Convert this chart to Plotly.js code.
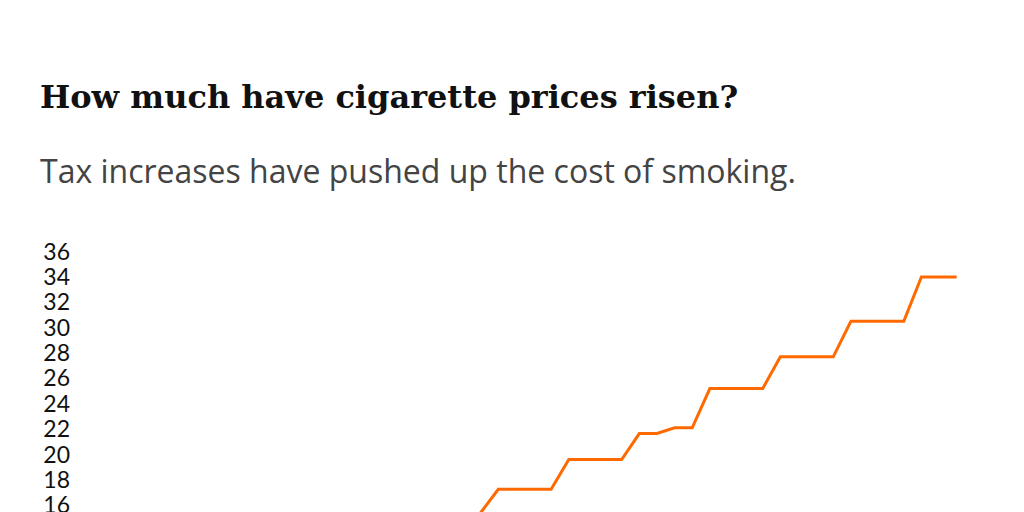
<!DOCTYPE html>
<html>
<head>
<meta charset="utf-8">
<script src="https://cdn.plot.ly/plotly-3.0.1.min.js"></script>
<style>
  html, body { margin: 0; padding: 0; background: #fff; overflow: hidden; }
  #chart { width: 1024px; height: 512px; }
</style>
</head>
<body>
<div id="chart"></div>
<script>
// quarterly pack price (lower part of the chart is cut off)
const quarters = [
    "2014 Q2", "2014 Q3", "2014 Q4", "2015 Q1", "2015 Q2",
    "2015 Q3", "2015 Q4", "2016 Q1", "2016 Q2",
    "2016 Q3", "2016 Q4", "2017 Q1", "2017 Q2",
    "2017 Q3", "2017 Q4", "2018 Q1", "2018 Q2",
    "2018 Q3", "2018 Q4", "2019 Q1", "2019 Q2",
    "2019 Q3", "2019 Q4", "2020 Q1", "2020 Q2",
    "2020 Q3", "2020 Q4", "2021 Q1"
]
const prices = [
    15.4, 17.25, 17.25, 17.25, 17.25,
    19.6, 19.6, 19.6, 19.6,
    21.65, 21.65, 22.1, 22.1,
    25.2, 25.2, 25.2, 25.2,
    27.7, 27.7, 27.7, 27.7,
    30.5, 30.5, 30.5, 30.5,
    34.0, 34.0, 34.0
]
const yTicks = [16, 18, 20, 22, 24, 26, 28, 30, 32, 34, 36]

const titleText = "How much have cigarette prices risen?"
const subtitleText = "Tax increases have pushed up the cost of smoking."

var trace = {
    x: quarters,
    y: prices,
    type: 'scatter',
    mode: 'lines',
    line: {color: '#ff6a00', width: 3},
    hoverinfo: 'x+y'
}

var layout = {
    width: 1024,
    height: 512,
    margin: {l: 76, r: 40, t: 240, b: 0},
    paper_bgcolor: '#ffffff',
    plot_bgcolor: '#ffffff',
    showlegend: false,
    xaxis: {
        type: 'category',
        range: [-22.95, 28.55],
        showgrid: false,
        zeroline: false,
        showline: false,
        showticklabels: false,
        ticks: ''
    },
    yaxis: {
        range: [15.46, 36.92],
        tickvals: yTicks,
        ticktext: yTicks.map(String),
        showgrid: false,
        zeroline: false,
        showline: false,
        ticks: '',
        ticklabelstandoff: 5,
        ticklabeloverflow: 'allow',
        tickfont: {family: 'Lato, sans-serif', size: 23, color: '#111'}
    },
    annotations: [
        {
            text: '<b>' + titleText + '</b>',
            xref: 'paper', yref: 'paper',
            x: -0.0419, y: 1.526,
            xanchor: 'left', yanchor: 'middle',
            showarrow: false,
            font: {family: 'DejaVu Serif, serif', size: 32, color: '#111'}
        },
        {
            text: subtitleText,
            xref: 'paper', yref: 'paper',
            x: -0.0419, y: 1.255,
            xanchor: 'left', yanchor: 'middle',
            showarrow: false,
            font: {family: 'Open Sans, sans-serif', size: 32, color: '#444'}
        }
    ]
}

Plotly.newPlot('chart', [trace], layout, {displayModeBar: false, staticPlot: true})
</script>
</body>
</html>
